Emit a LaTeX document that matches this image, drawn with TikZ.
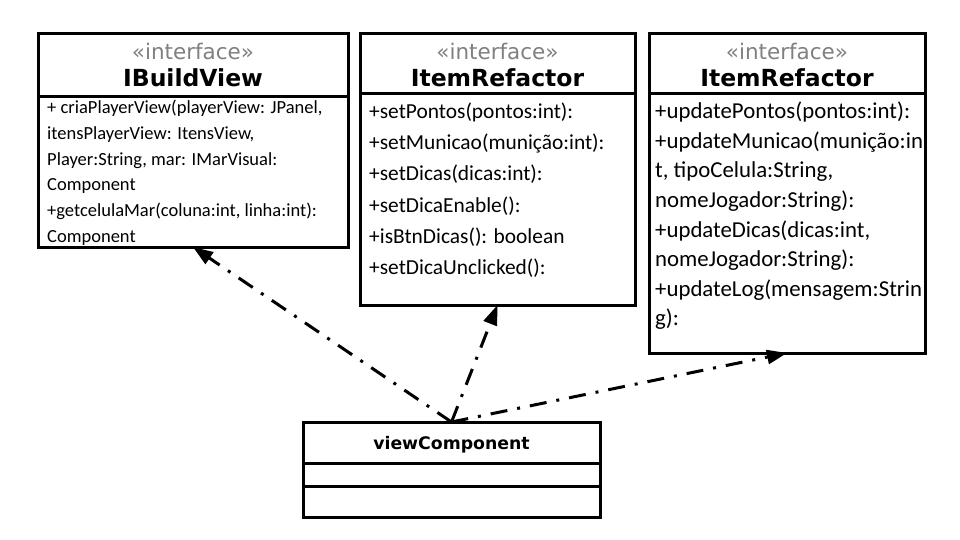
\documentclass[tikz,border=0pt]{standalone}
\usepackage{fontspec}
\setmainfont{Carlito}
\newfontfamily\headfont{DejaVu Sans}
\usetikzlibrary{arrows.meta, positioning, calc}
\definecolor{stereogray}{RGB}{128, 128, 128}

\begin{document}
\begin{tikzpicture}[x=1pt, y=-1pt,
  box/.style={draw, line width=3pt, inner sep=0pt, outer sep=0pt, anchor=north west},
  stereo/.style={font=\headfont\fontsize{21.5}{21.5}\selectfont, text=stereogray, anchor=base, inner sep=0pt},
  cname/.style={font=\headfont\bfseries\fontsize{23.5}{23.5}\selectfont, anchor=base, inner sep=0pt},
  member/.style={font=\fontsize{#1}{#1}\selectfont, anchor=base west, inner sep=0pt},
  dep/.style={-{Triangle[length=20pt, width=14pt]}, line width=3pt, dash pattern=on 17pt off 10pt on 3pt off 10pt},
]
  \useasboundingbox[fill=white] (0,0) rectangle (960,540);

  % IBuildView
  \node[box, minimum width=310, minimum height=63] (ibvhead) at (38,34) {};
  \node[box, minimum width=310, minimum height=150] (ibv) at (ibvhead.south west) {};
  \node[stereo] (ibvst) at (193,60) {«interface»};
  \node[cname] (ibvname) at (193,87) {IBuildView};
  \foreach \m [count=\i] in {{+ criaPlayerView(playerView: JPanel,}, {itensPlayerView: ItensView,}, {Player:String, mar: IMarVisual:}, {Component}, {+getcelulaMar(coluna:int, linha:int):}, {Component}}
    \node[member=18.5] (ibvm\i) at (47, {113.5+(\i-1)*25.8}) {\m};

  % ItemRefactor (set)
  \node[box, minimum width=275, minimum height=60] (itshead) at (360,34) {};
  \node[box, minimum width=275, minimum height=211] (its) at (itshead.south west) {};
  \node[stereo] (itsst) at (497.5,60) {«interface»};
  \node[cname] (itsname) at (497.5,87) {ItemRefactor};
  \foreach \m [count=\i] in {{+setPontos(pontos:int):}, {+setMunicao(munição:int):}, {+setDicas(dicas:int):}, {+setDicaEnable():}, {+isBtnDicas(): boolean}, {+setDicaUnclicked():}}
    \node[member=21.4] (itsm\i) at (369, {119+(\i-1)*31}) {\m};

  % ItemRefactor (update)
  \node[box, minimum width=276, minimum height=60] (ituhead) at (649,34) {};
  \node[box, minimum width=276, minimum height=259] (itu) at (ituhead.south west) {};
  \node[stereo] (itust) at (787,60) {«interface»};
  \node[cname] (ituname) at (787,87) {ItemRefactor};
  \foreach \m [count=\i] in {{+updatePontos(pontos:int):}, {+updateMunicao(munição:in}, {t, tipoCelula:String,}, {nomeJogador:String):}, {+updateDicas(dicas:int,}, {nomeJogador:String):}, {+updateLog(mensagem:Strin}, {g):}}
    \node[member=22.8] (itum\i) at (655, {119+(\i-1)*29.5}) {\m};

  % viewComponent
  \node[box, minimum width=297, minimum height=41] (vchead) at (303,422) {};
  \node[box, minimum width=297, minimum height=23] (vcattr) at (vchead.south west) {};
  \node[box, minimum width=297, minimum height=31] (vc) at (vcattr.south west) {};
  \node[font=\headfont\bfseries\fontsize{17.3}{17.3}\selectfont, anchor=base, inner sep=0pt] (vcname) at (451.5,449) {viewComponent};

  \draw[dep] (vchead.north) -- (ibv.south);
  \draw[dep] (vchead.north) -- (its.south);
  \draw[dep] (vchead.north) -- (itu.south);
\end{tikzpicture}
\end{document}
